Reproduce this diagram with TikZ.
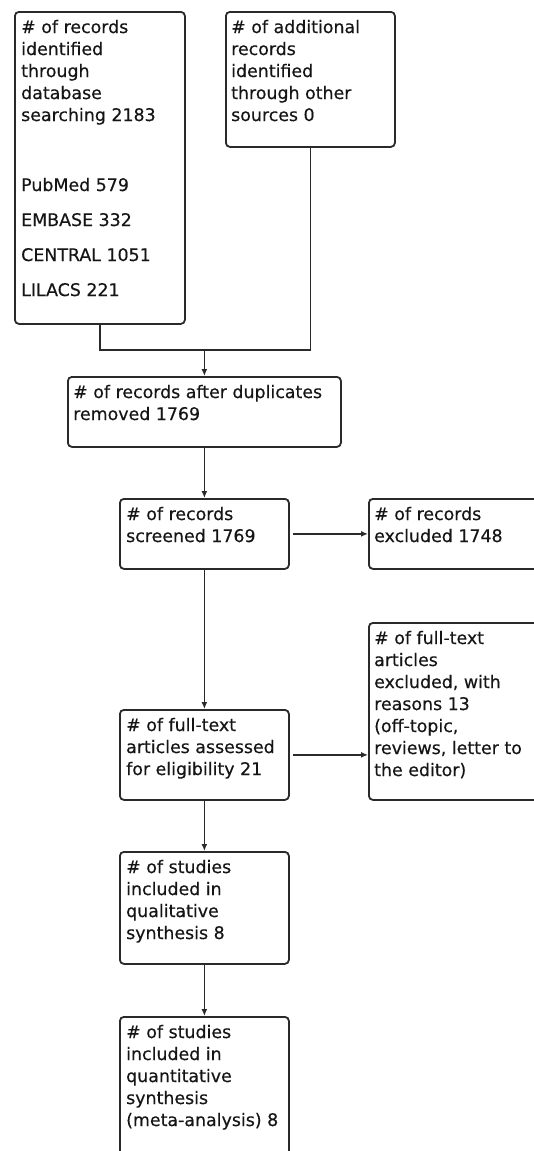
\documentclass[tikz,border=0pt]{standalone}
\usepackage{fontspec}
\setmainfont[FakeBold=0.35]{DejaVu Sans}
\usetikzlibrary{arrows.meta,calc}
\definecolor{lncol}{HTML}{2A2A2A}
\definecolor{txcol}{HTML}{151515}
\tikzset{
  box/.style={draw=lncol, line width=1.8pt, rounded corners=4pt, anchor=north west, inner sep=0pt},
  txt/.style={anchor=north west, inner sep=0pt, align=left, text=txcol,
              font=\fontsize{17.4}{22}\selectfont, execute at begin node=\strut},
  conn/.style={draw=lncol, line width=1.8pt},
  arr/.style={conn, -{Latex[length=7pt,width=6pt]}}
}
\begin{document}
\begin{tikzpicture}[x=1pt,y=-1pt]
\fill[white] (0,0) rectangle (534,1151);
\clip (0,0) rectangle (534,1151);
% boxes
\node[box, minimum width=170, minimum height=312] (b1) at (14,11) {};
\node[box, minimum width=169, minimum height=135] (b2) at (225,11) {};
\node[box, minimum width=273, minimum height=70] (b3) at (67,376) {};
\node[box, minimum width=169, minimum height=70] (b4) at (119,498) {};
\node[box, minimum width=185, minimum height=70] (b5) at (368,498) {};
\node[box, minimum width=185, minimum height=177] (b6) at (368,622) {};
\node[box, minimum width=169, minimum height=90] (b7) at (119,709) {};
\node[box, minimum width=169, minimum height=112] (b8) at (119,851) {};
\node[box, minimum width=169, minimum height=170] (b9) at (119,1016) {};
% texts
\node[txt] (t1) at (21,19.6) {\# of records\\ identified\\ through\\ database\\ searching 2183\\[48pt] PubMed 579\\[13pt] EMBASE 332\\[13pt] CENTRAL 1051\\[13pt] LILACS 221};
\node[txt] (t2) at (231,19.6) {\# of additional\\ records\\ identified\\ through other\\ sources 0};
\node[txt] (t3) at (73,384.6) {\# of records after duplicates\\ removed 1769};
\node[txt] (t4) at (126,506.6) {\# of records\\ screened 1769};
\node[txt] (t5) at (374,506.6) {\# of records\\ excluded 1748};
\node[txt] (t6) at (374,630.6) {\# of full-text\\ articles\\ excluded, with\\ reasons 13\\ (off-topic,\\ reviews, letter to\\ the editor)};
\node[txt] (t7) at (126,717.6) {\# of full-text\\ articles assessed\\ for eligibility 21};
\node[txt] (t8) at (126,859.6) {\# of studies\\ included in\\ qualitative\\ synthesis 8};
\node[txt] (t9) at (126,1024.6) {\# of studies\\ included in\\ quantitative\\ synthesis\\ (meta-analysis) 8};
% connectors
\coordinate (m) at ($(b3.north)+(0,-26)$);
\draw[conn] (b1.south) |- (m) -| (b2.south);
\draw[arr] (m) -- (b3.north);
\draw[arr] (b3.south) -- (b4.north);
\draw[arr, shorten <=3pt] (b4.east) -- (b5.west);
\draw[arr] (b4.south) -- (b7.north);
\draw[arr, shorten <=3pt] (b7.east) -- (b7.east -| b6.west);
\draw[arr] (b7.south) -- (b8.north);
\draw[arr] (b8.south) -- (b9.north);
\end{tikzpicture}
\end{document}
